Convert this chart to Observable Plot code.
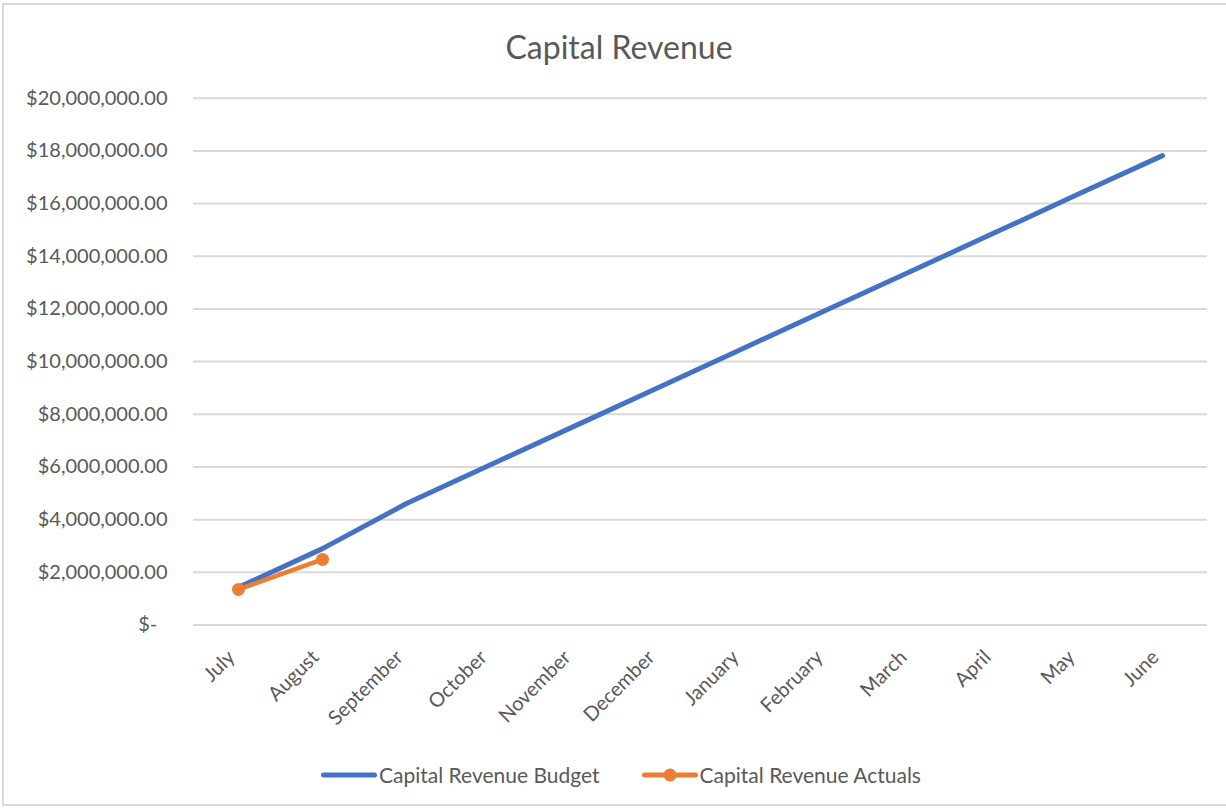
<!DOCTYPE html>
<html>
<head>
<meta charset="utf-8">
<script src="https://cdn.jsdelivr.net/npm/d3@7"></script>
<script src="https://cdn.jsdelivr.net/npm/@observablehq/plot@0.6"></script>
<style>
  html, body { margin: 0; padding: 0; background: #fff; overflow: hidden; }
  body { width: 1226px; height: 811px; position: relative; font-family: Lato, "Noto Sans", sans-serif; color: #595959; }
  #frame { position: absolute; left: 2px; top: 3px; width: 1240px; height: 803px; border: 2px solid #d9d9d9; box-sizing: border-box; }
  #title { position: absolute; left: 12px; width: 1214px; top: 26px; text-align: center; font-size: 32px; line-height: 42px; }
  #chart { position: absolute; left: 0; top: 70px; }
  #legend { position: absolute; left: 16px; width: 1210px; top: 762px; display: flex; justify-content: center; align-items: center; font-size: 21px; gap: 42px; }
  .item { display: flex; align-items: center; }
  .item svg { display: block; margin-right: 2px; }
</style>
</head>
<body>
<div id="frame"></div>
<div id="title">Capital Revenue</div>
<div id="chart"></div>
<div id="legend"></div>
<script>
const months = ["July", "August", "September", "October", "November", "December", "January", "February", "March", "April", "May", "June"];
const budget = [1430000, 2900000, 4610000, 6080000, 7550000, 9020000, 10490000, 11960000, 13420000, 14890000, 16360000, 17820000];
const actualMonths = ["July", "August"];
const actuals = [1350000, 2490000];
const yTicks = [0, 2000000, 4000000, 6000000, 8000000, 10000000, 12000000, 14000000, 16000000, 18000000, 20000000];
const seriesNames = ["Capital Revenue Budget", "Capital Revenue Actuals"];
const seriesColors = ["#4472C4", "#ED7D31"];

const budgetData = months.map((m, i) => ({month: m, value: budget[i]}));
const actualData = actualMonths.map((m, i) => ({month: m, value: actuals[i]}));

const fmt = d => d === 0 ? "$-\u00a0\u00a0" : "$" + d3.format(",.2f")(d);

const chart = Plot.plot({
  width: 1226,
  height: 640,
  marginLeft: 193,
  marginRight: 19,
  marginTop: 27.7,
  marginBottom: 85.5,
  style: {fontFamily: "Lato, 'Noto Sans', sans-serif", color: "#595959", background: "transparent", overflow: "visible"},
  x: {type: "point", domain: months, padding: 0.5, label: null},
  y: {domain: [0, 20000000], label: null},
  marks: [
    Plot.gridY(yTicks, {stroke: "#d9d9d9", strokeOpacity: 1, strokeWidth: 2}),
    Plot.axisY(yTicks, {tickSize: 0, tickPadding: 26, tickFormat: fmt, fontSize: 20, fill: "#595959", label: null}),
    Plot.axisX(months, {tickSize: 0, tickRotate: -45, tickPadding: 29, dx: -7, fontSize: 20, fill: "#595959", label: null}),
    Plot.line(budgetData, {x: "month", y: "value", stroke: seriesColors[0], strokeWidth: 5, strokeLinecap: "round", strokeLinejoin: "round"}),
    Plot.line(actualData, {x: "month", y: "value", stroke: seriesColors[1], strokeWidth: 4.5, strokeLinecap: "round"}),
    Plot.dot(actualData, {x: "month", y: "value", r: 6.5, fill: seriesColors[1], stroke: "none"})
  ]
});
document.getElementById("chart").appendChild(chart);

const legend = document.getElementById("legend");
seriesNames.forEach((name, i) => {
  const item = document.createElement("div");
  item.className = "item";
  const marker = i === 1 ? `<circle cx="28" cy="8" r="6.5" fill="${seriesColors[i]}"/>` : "";
  item.innerHTML = `<svg width="56" height="16"><line x1="2.5" y1="8" x2="53.5" y2="8" stroke="${seriesColors[i]}" stroke-width="5" stroke-linecap="round"/>${marker}</svg><span>${name}</span>`;
  legend.appendChild(item);
});
</script>
</body>
</html>
